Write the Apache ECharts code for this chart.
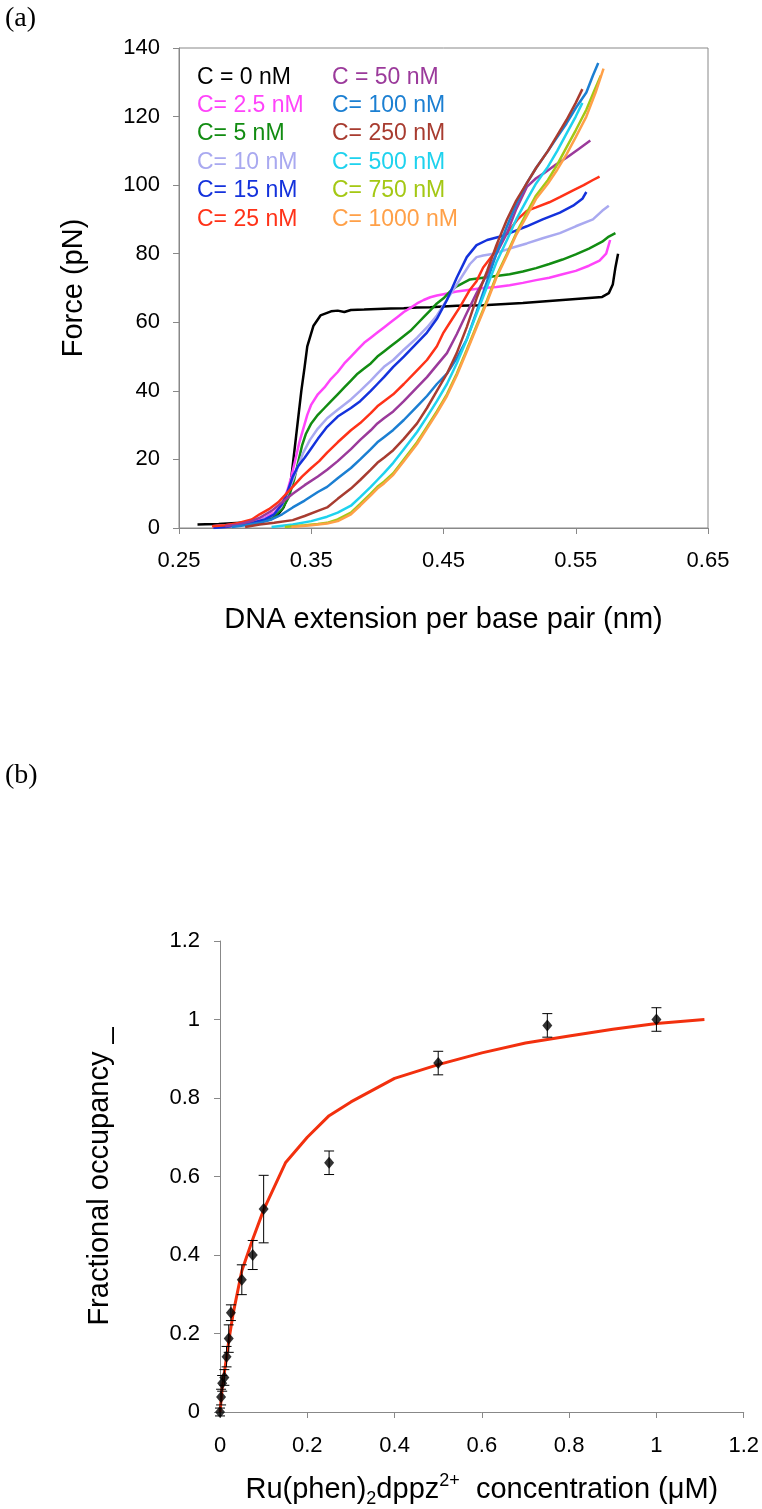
<!DOCTYPE html>
<html><head><meta charset="utf-8">
<script src="https://cdn.jsdelivr.net/npm/echarts@6/dist/echarts.min.js"></script>
<style>html,body{margin:0;padding:0;background:#fff}#c{width:762px;height:1509px}</style>
</head><body><div id="c"></div>
<script>
// ---------- Panel (a): force-extension curves ----------
const seriesNames = ["C = 0 nM","C= 2.5 nM","C= 5 nM","C= 10 nM","C= 15 nM","C= 25 nM",
                     "C = 50 nM","C= 100 nM","C= 250 nM","C= 500 nM","C= 750 nM","C= 1000 nM"];
const seriesColors = ["#000000","#FF44FA","#128C12","#A9A9F0","#1432DC","#FF3218",
                      "#9B3A9B","#1B7FD2","#A83C30","#1ED2EE","#A4C814","#FFA048"];
const c0 = [[0.264,1.0],[0.27,1.1],[0.28,1.2],[0.29,1.4],[0.30,1.6],[0.31,1.9],[0.318,2.4],[0.324,3.5],[0.329,6],[0.333,10],[0.335,15],[0.338,25],[0.3425,40],[0.345,47],[0.347,53],[0.3517,59],[0.357,62],[0.365,63.2],[0.37,63.4],[0.375,63.0],[0.38,63.6],[0.39,63.7],[0.40,63.9],[0.41,64.0],[0.42,64.1],[0.43,64.3],[0.44,64.4],[0.45,64.6],[0.46,64.8],[0.47,64.9],[0.48,65.0],[0.49,65.2],[0.50,65.4],[0.51,65.6],[0.52,65.9],[0.53,66.2],[0.54,66.5],[0.55,66.8],[0.56,67.1],[0.57,67.4],[0.575,68.5],[0.578,71],[0.580,76],[0.582,80]];
const c2_5 = [[0.275,0.5],[0.285,0.8],[0.295,1.2],[0.305,2],[0.315,3],[0.322,4.5],[0.328,7],[0.332,11],[0.335,15],[0.338,20],[0.341,25],[0.344,29],[0.347,33],[0.350,36],[0.355,39],[0.36,41],[0.365,43.5],[0.37,45.5],[0.375,48],[0.38,50],[0.385,52],[0.39,54],[0.395,55.5],[0.40,57],[0.405,58.5],[0.41,60],[0.415,61.5],[0.42,63],[0.425,64.2],[0.43,65.5],[0.435,66.5],[0.44,67.3],[0.445,67.8],[0.45,68.2],[0.46,69],[0.47,69.5],[0.48,70],[0.49,70.3],[0.50,70.8],[0.51,71.5],[0.52,72.3],[0.53,73],[0.54,74],[0.55,75],[0.56,76.5],[0.568,78],[0.573,80],[0.576,84]];
const c5 = [[0.285,0.5],[0.295,0.8],[0.305,1.3],[0.315,2.2],[0.322,3.5],[0.328,5.5],[0.333,9],[0.337,14],[0.34,19],[0.343,24],[0.346,27.5],[0.35,30.5],[0.355,33],[0.36,35],[0.365,37],[0.37,39],[0.375,41],[0.38,43],[0.385,45],[0.39,46.5],[0.395,48],[0.40,50],[0.405,51.5],[0.41,53],[0.415,54.5],[0.42,56],[0.425,57.5],[0.43,59.5],[0.435,61.5],[0.44,63.5],[0.445,65.5],[0.45,67],[0.455,69],[0.46,70.5],[0.465,71.5],[0.47,72.5],[0.48,73],[0.49,73.5],[0.50,74],[0.51,74.8],[0.52,75.8],[0.53,77],[0.54,78.3],[0.55,79.8],[0.56,81.5],[0.57,83.5],[0.575,85],[0.58,86]];
const c10 = [[0.275,0.5],[0.29,0.8],[0.30,1.2],[0.31,2],[0.32,3.5],[0.327,6],[0.332,10],[0.336,14],[0.34,18],[0.344,22],[0.349,25.7],[0.355,29],[0.362,32],[0.37,34.5],[0.38,37.5],[0.387,40],[0.395,43],[0.40,45],[0.405,47],[0.412,49],[0.42,52],[0.43,55.5],[0.4375,58.5],[0.445,62],[0.45,65],[0.455,68],[0.46,71],[0.465,74],[0.47,77],[0.475,79],[0.48,79.5],[0.488,80],[0.50,81.5],[0.513,83],[0.525,84.5],[0.538,86],[0.55,88],[0.563,90],[0.57,92.5],[0.575,94]];
const c15 = [[0.276,0],[0.285,0.3],[0.295,0.8],[0.305,1.5],[0.315,2.5],[0.322,4],[0.328,7],[0.332,10.5],[0.336,15],[0.34,18],[0.345,20.5],[0.349,22.7],[0.355,26],[0.362,29.5],[0.37,32.5],[0.38,35],[0.387,37],[0.395,40],[0.40,42],[0.405,44],[0.412,47],[0.42,50],[0.43,54],[0.4375,57],[0.445,61],[0.4526,66.5],[0.46,73],[0.4676,79],[0.475,82.5],[0.483,84],[0.493,85],[0.50,86],[0.513,88],[0.525,90],[0.538,92],[0.548,94],[0.555,96],[0.558,98]];
const c25 = [[0.275,0.5],[0.285,0.8],[0.295,1.5],[0.305,2.5],[0.311,4],[0.318,5.5],[0.325,7.5],[0.33,9.5],[0.336,12],[0.343,15],[0.35,17.5],[0.356,19.5],[0.362,22],[0.37,25],[0.38,28.5],[0.387,30.6],[0.395,33.5],[0.40,35.5],[0.405,37],[0.412,39],[0.42,42],[0.43,46],[0.4375,49],[0.445,53],[0.45,57],[0.455,60],[0.4625,64.5],[0.47,69.5],[0.475,72],[0.48,76],[0.488,80],[0.494,84],[0.50,87],[0.506,90],[0.513,92.5],[0.52,93.5],[0.53,95],[0.538,96.5],[0.548,98.5],[0.556,100],[0.563,101.5],[0.568,102.5]];
const c50 = [[0.285,0.5],[0.295,1],[0.305,2],[0.311,3],[0.32,5],[0.328,7.5],[0.336,10],[0.345,12.5],[0.355,15],[0.362,17],[0.37,19.5],[0.38,23],[0.387,25.7],[0.395,28.5],[0.40,30.5],[0.405,32],[0.412,34],[0.42,37],[0.43,41],[0.4375,44],[0.445,47.5],[0.4526,51],[0.46,56.5],[0.4676,62.7],[0.475,68.5],[0.483,74],[0.49,80],[0.498,86],[0.505,93],[0.513,99.5],[0.52,102],[0.526,103.5],[0.535,106],[0.543,108],[0.552,110.5],[0.561,113]];
const c100 = [[0.29,0.3],[0.30,0.8],[0.311,1.5],[0.32,2.5],[0.328,4],[0.336,6],[0.345,8],[0.355,10.5],[0.362,12],[0.37,14.5],[0.38,17.5],[0.387,20],[0.395,23],[0.40,25],[0.405,26.5],[0.412,28.6],[0.42,31.5],[0.43,35.5],[0.4375,38.5],[0.445,42],[0.4526,45],[0.46,49.5],[0.4676,55],[0.475,63],[0.483,72],[0.49,80],[0.498,88],[0.505,94.5],[0.513,100.6],[0.52,105],[0.529,110],[0.536,114],[0.543,118],[0.55,122.5],[0.558,127],[0.563,132],[0.567,135.6]];
const c250 = [[0.30,0.3],[0.311,1],[0.322,1.5],[0.336,2.3],[0.345,3.5],[0.355,5],[0.362,6],[0.37,8.5],[0.38,11.5],[0.387,14],[0.395,17],[0.40,19],[0.405,20.5],[0.412,22.7],[0.42,26],[0.43,30.5],[0.4375,35],[0.445,40],[0.4526,45],[0.46,51],[0.4676,58.6],[0.475,67],[0.483,75],[0.49,82.5],[0.498,90],[0.505,95.5],[0.513,100.6],[0.52,105],[0.529,110],[0.536,114.5],[0.543,119],[0.55,124],[0.555,128]];
const c500 = [[0.32,0.3],[0.336,1],[0.35,2],[0.362,3.3],[0.37,4.5],[0.38,6.5],[0.387,9],[0.395,12],[0.40,14],[0.405,16],[0.412,19],[0.42,23],[0.43,28],[0.4375,32.4],[0.445,37],[0.4526,42],[0.46,48],[0.4676,55],[0.475,62.5],[0.483,70.4],[0.49,77.5],[0.498,84],[0.505,90],[0.513,95.7],[0.52,100.5],[0.529,105.4],[0.536,110],[0.543,115],[0.55,120],[0.555,124]];
const c750 = [[0.33,0.3],[0.345,0.8],[0.355,1.2],[0.362,1.5],[0.37,2.5],[0.38,4.5],[0.387,7],[0.395,10],[0.40,12],[0.405,13.5],[0.412,16],[0.42,20],[0.43,25],[0.4375,29.5],[0.445,34],[0.4526,39],[0.46,45],[0.4676,52],[0.475,59],[0.483,66.5],[0.49,73.5],[0.498,80],[0.505,86],[0.513,92],[0.52,97],[0.529,101.5],[0.536,106],[0.543,111],[0.55,116],[0.558,122],[0.564,127.5],[0.569,132]];
const c1000 = [[0.335,0.3],[0.35,0.8],[0.362,1.3],[0.37,2],[0.38,4],[0.387,6.5],[0.395,9.5],[0.40,11.5],[0.405,13],[0.412,15.5],[0.42,19.5],[0.43,24.5],[0.4375,29],[0.445,33.5],[0.4526,38.5],[0.46,44.5],[0.4676,51.5],[0.475,58.5],[0.483,66],[0.49,73],[0.498,79.5],[0.505,85.5],[0.513,91],[0.52,96],[0.529,100.5],[0.536,104.5],[0.543,109],[0.55,114],[0.558,120],[0.565,127],[0.571,134]];
const curves = [c0,c2_5,c5,c10,c15,c25,c50,c100,c250,c500,c750,c1000];

// ---------- Panel (b): fractional occupancy ----------
const occConc  = [0, 0.0025, 0.005, 0.01, 0.015, 0.02, 0.025, 0.05, 0.075, 0.1, 0.25, 0.5, 0.75, 1.0];
const occValue = [0, 0.038, 0.073, 0.088, 0.141, 0.187, 0.253, 0.337, 0.40, 0.517, 0.635, 0.889, 0.985, 1.0];
const occErr   = [0.01, 0.02, 0.02, 0.02, 0.026, 0.035, 0.02, 0.038, 0.037, 0.086, 0.03, 0.03, 0.03, 0.03];
const fitConc  = [0, 0.005, 0.01, 0.02, 0.03, 0.05, 0.075, 0.1, 0.15, 0.2, 0.25, 0.3, 0.4, 0.5, 0.6, 0.7, 0.8, 0.9, 1.0, 1.11];
const fitValue = [0, 0.06, 0.10, 0.18, 0.25, 0.36, 0.44, 0.515, 0.635, 0.70, 0.755, 0.79, 0.85, 0.885, 0.915, 0.94, 0.958, 0.975, 0.99, 1.0];

const FONT = "'Liberation Sans', Arial, sans-serif";
const axisGray = '#888888';

const chart = echarts.init(document.getElementById('c'), null, {renderer:'canvas'});

const lineSeries = curves.map((d, i) => ({
  type:'line', name: seriesNames[i], xAxisIndex:0, yAxisIndex:0,
  data: d, showSymbol:false, symbol:'none', animation:false,
  lineStyle:{color: seriesColors[i], width:2.5}, itemStyle:{color: seriesColors[i]}
}));

function legendData(from, to){
  return seriesNames.slice(from, to).map((n, k) => ({name:n, textStyle:{color: seriesColors[from+k]}}));
}
const legendBase = {
  orient:'vertical', icon:'none', itemWidth:0, itemHeight:10, itemGap:0, top:58,
  selectedMode:false,
  textStyle:{fontFamily:FONT, fontSize:23, lineHeight:28.4, padding:0}
};

const option = {
  backgroundColor:'#fff',
  animation:false,
  title:[
    {text:'(a)', left:0, top:0, textStyle:{fontFamily:"'Liberation Serif','Times New Roman',serif", fontWeight:'normal', fontSize:28, color:'#000'}},
    {text:'(b)', left:0, top:757, textStyle:{fontFamily:"'Liberation Serif','Times New Roman',serif", fontWeight:'normal', fontSize:28, color:'#000'}}
  ],
  legend:[
    Object.assign({}, legendBase, {left:187, data: legendData(0,6)}),
    Object.assign({}, legendBase, {left:322, data: legendData(6,12)})
  ],
  grid:[
    {left:179, top:48, width:529, height:480, show:true, borderColor:axisGray, borderWidth:1, backgroundColor:'transparent'},
    {left:220, top:941, width:527, height:474}
  ],
  xAxis:[
    {type:'value', gridIndex:0, min:0.25, max:0.65, interval:0.1,
     name:'DNA extension per base pair (nm)', nameLocation:'middle', nameGap:77,
     nameTextStyle:{fontFamily:FONT, fontSize:29, color:'#000'},
     axisLine:{show:true, onZero:false, lineStyle:{color:axisGray, width:1}},
     axisTick:{show:true, inside:false, length:6, lineStyle:{color:axisGray}},
     axisLabel:{fontFamily:FONT, fontSize:22, color:'#000', margin:22, formatter:v=>v.toFixed(2)},
     splitLine:{show:false}},
    {type:'value', gridIndex:1, min:0, max:1.2, interval:0.2,
     name:'{a|Ru(phen)}{sub|2}{a|dppz}{sup|2+}{a|  concentration (μM)}', nameLocation:'middle', nameGap:60,
     nameTextStyle:{fontFamily:FONT, fontSize:29, color:'#000',
       rich:{
         a:{fontFamily:FONT, fontSize:29, color:'#000', lineHeight:36},
         sub:{fontFamily:FONT, fontSize:18, color:'#000', lineHeight:18, verticalAlign:'bottom'},
         sup:{fontFamily:FONT, fontSize:18, color:'#000', lineHeight:18, verticalAlign:'top'}
       }},
     axisLine:{show:true, onZero:false, lineStyle:{color:axisGray, width:1}},
     axisTick:{show:true, inside:false, length:6, lineStyle:{color:axisGray}},
     axisLabel:{fontFamily:FONT, fontSize:22, color:'#000', margin:23, formatter:v=>String(+v.toFixed(1))},
     splitLine:{show:false}}
  ],
  yAxis:[
    {type:'value', gridIndex:0, min:0, max:140, interval:20,
     name:'Force (pN)', nameLocation:'middle', nameGap:91, nameRotate:90,
     nameTextStyle:{fontFamily:FONT, fontSize:29, color:'#000'},
     axisLine:{show:true, onZero:false, lineStyle:{color:axisGray, width:1}},
     axisTick:{show:true, inside:false, length:6, lineStyle:{color:axisGray}},
     axisLabel:{fontFamily:FONT, fontSize:22, color:'#000', margin:19},
     splitLine:{show:false}},
    {type:'value', gridIndex:1, min:0, max:1.2, interval:0.2,
     name:'Fractional occupancy _', nameLocation:'middle', nameGap:106, nameRotate:90,
     nameTextStyle:{fontFamily:FONT, fontSize:29, color:'#000'},
     axisLine:{show:true, onZero:false, lineStyle:{color:axisGray, width:1}},
     axisTick:{show:true, inside:false, length:6, lineStyle:{color:axisGray}},
     axisLabel:{fontFamily:FONT, fontSize:22, color:'#000', margin:20, formatter:v=>String(+v.toFixed(1))},
     splitLine:{show:false}}
  ],
  series: lineSeries.concat([
    {type:'line', name:'fit', xAxisIndex:1, yAxisIndex:1, showSymbol:false, symbol:'none',
     data: fitConc.map((x,i)=>[x, fitValue[i]]),
     lineStyle:{color:'#F2300E', width:3}, z:2},
    {type:'custom', name:'err', xAxisIndex:1, yAxisIndex:1, z:3,
     data: occConc.map((x,i)=>[x, occValue[i], occErr[i]]),
     renderItem:(params, api)=>{
       const x = api.value(0), y = api.value(1), e = api.value(2);
       const t = api.coord([x, y+e]), b = api.coord([x, y-e]);
       const hw = 5, st = {stroke:'#000', lineWidth:1};
       return {type:'group', children:[
         {type:'line', shape:{x1:t[0], y1:t[1], x2:b[0], y2:b[1]}, style:st},
         {type:'line', shape:{x1:t[0]-hw, y1:t[1], x2:t[0]+hw, y2:t[1]}, style:st},
         {type:'line', shape:{x1:b[0]-hw, y1:b[1], x2:b[0]+hw, y2:b[1]}, style:st}
       ]};
     }},
    {type:'scatter', name:'occupancy', xAxisIndex:1, yAxisIndex:1, z:4,
     symbol:'diamond', symbolSize:[10,12],
     data: occConc.map((x,i)=>[x, occValue[i]]),
     itemStyle:{color:'#000'}}
  ])
};
chart.setOption(option);
</script></body></html>
